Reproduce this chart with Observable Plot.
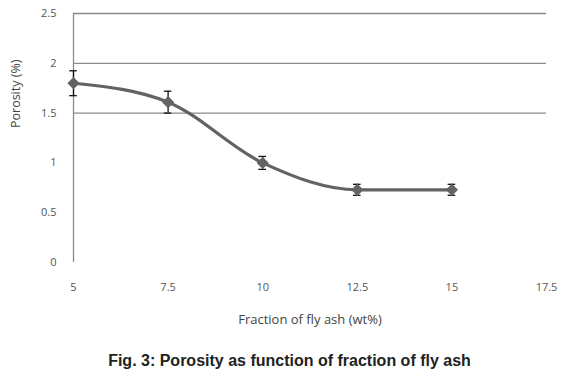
<!DOCTYPE html>
<html>
<head>
<meta charset="utf-8">
<script src="https://cdn.jsdelivr.net/npm/d3@7"></script>
<script src="https://cdn.jsdelivr.net/npm/@observablehq/plot@0.6"></script>
<style>
  body { margin: 0; background: #fff; }
  #wrap { width: 579px; }
  #cap { font: bold 16px "Liberation Sans", Arial, sans-serif; text-align: center; color: #222; margin-top: 11px; line-height: 20px; }
</style>
</head>
<body>
<div id="wrap"></div>
<script>
// Data
const flyAsh = [5, 7.5, 10, 12.5, 15];
const porosity = [1.8, 1.61, 1.0, 0.73, 0.73];
const errors = [0.125, 0.11, 0.065, 0.055, 0.055];
const xTicks = [5, 7.5, 10, 12.5, 15, 17.5];
const yTicks = [0, 0.5, 1, 1.5, 2, 2.5];
const gridValues = [1.5, 2, 2.5];
const xLabel = "Fraction of fly ash (wt%)";
const yLabel = "Porosity (%)";
const caption = "Fig. 3: Porosity as function of fraction of fly ash";

const data = flyAsh.map((x, i) => ({x, y: porosity[i], lo: porosity[i] - errors[i], hi: porosity[i] + errors[i]}));
const capHalf = 0.1;

const chart = Plot.plot({
  width: 579,
  height: 340,
  marginLeft: 73,
  marginRight: 33,
  marginTop: 13,
  marginBottom: 78,
  style: {fontFamily: "'Open Sans', 'DejaVu Sans', sans-serif", background: "#fff"},
  x: {domain: [5, 17.5]},
  y: {domain: [0, 2.5]},
  marks: [
    Plot.gridY(gridValues, {stroke: "#8a8a8a", strokeOpacity: 1, strokeWidth: 1.3}),
    Plot.ruleX([5], {y1: 0, y2: 2.5, stroke: "#8a8a8a", strokeWidth: 1.3}),
    Plot.line(data, {x: "x", y: "y", curve: "monotone-x", stroke: "#636363", strokeWidth: 3.2}),
    Plot.ruleX(data, {x: "x", y1: "lo", y2: "hi", stroke: "#111", strokeWidth: 1.3}),
    Plot.ruleY(data, {y: "hi", x1: d => d.x - capHalf, x2: d => d.x + capHalf, stroke: "#111", strokeWidth: 1.3}),
    Plot.ruleY(data, {y: "lo", x1: d => d.x - capHalf, x2: d => d.x + capHalf, stroke: "#111", strokeWidth: 1.3}),
    Plot.dot(data, {x: "x", y: "y", symbol: "diamond2", r: 5.5, fill: "#636363", stroke: "none"}),
    Plot.axisX({ticks: xTicks, tickSize: 0, tickPadding: 21, label: null, fontSize: 11, fill: "#555", tickFormat: d => String(d)}),
    Plot.axisY({ticks: yTicks, tickSize: 0, tickPadding: 17, label: null, fontSize: 11, fill: "#555", tickFormat: d => String(d)}),
    Plot.text([xLabel], {frameAnchor: "bottom", dy: 61, text: d => d, fontSize: 13, fill: "#444"}),
    Plot.text([yLabel], {frameAnchor: "left", dx: -58, dy: -10, rotate: -90, text: d => d, fontSize: 12.5, fill: "#444"})
  ]
});
document.getElementById("wrap").appendChild(chart);
const c = document.createElement("div");
c.id = "cap";
c.textContent = caption;
document.getElementById("wrap").appendChild(c);
</script>
</body>
</html>
